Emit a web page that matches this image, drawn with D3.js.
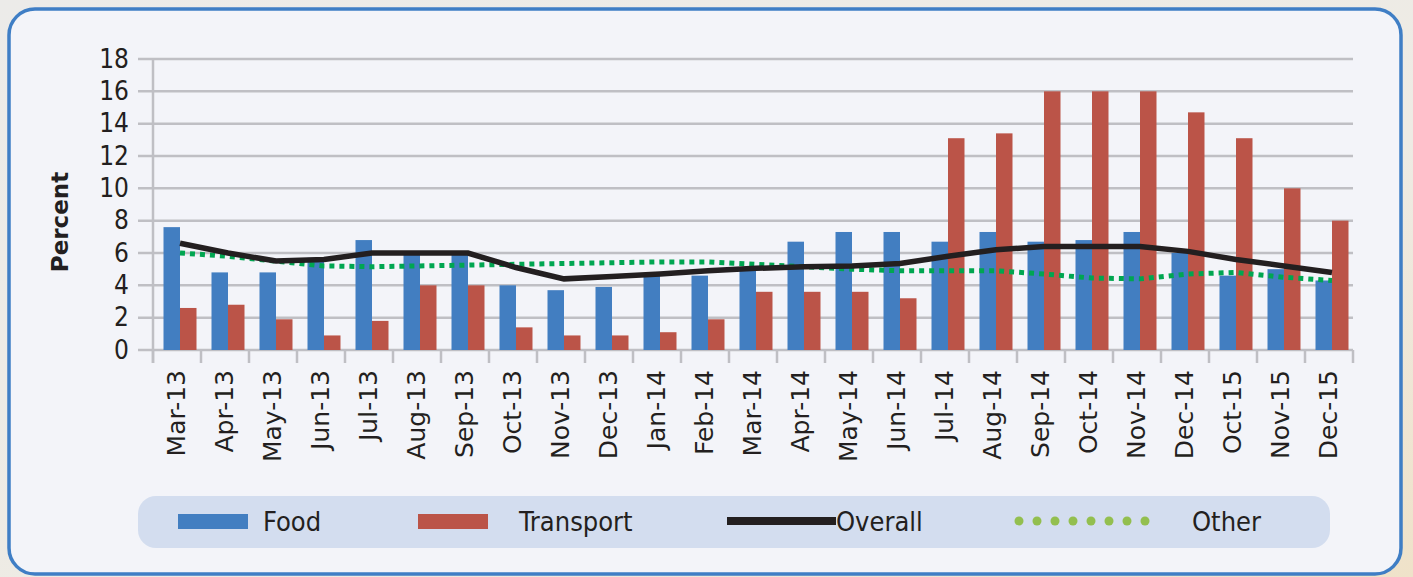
<!DOCTYPE html>
<html>
<head>
<meta charset="utf-8">
<script src="https://cdn.jsdelivr.net/npm/d3@7"></script>
<style>
  body { margin: 0; background: linear-gradient(160deg, #ecebe9 0%, #eeebe4 60%, #efe2c9 100%); }
  svg { display: block; }
  text { font-family: "DejaVu Sans Condensed", "DejaVu Sans", sans-serif; fill: #231f20; }
</style>
</head>
<body>
<svg id="chart" width="1413" height="577"></svg>
<script>
const months = ['Mar-13','Apr-13','May-13','Jun-13','Jul-13','Aug-13','Sep-13','Oct-13','Nov-13','Dec-13',
  'Jan-14','Feb-14','Mar-14','Apr-14','May-14','Jun-14','Jul-14','Aug-14','Sep-14','Oct-14','Nov-14','Dec-14',
  'Oct-15','Nov-15','Dec-15'];
const food = [7.6,4.8,4.8,5.7,6.8,6.0,6.0,4.0,3.7,3.9,4.6,4.6,5.0,6.7,7.3,7.3,6.7,7.3,6.7,6.8,7.3,6.0,4.6,5.0,4.3];
const transport = [2.6,2.8,1.9,0.9,1.8,4.0,4.0,1.4,0.9,0.9,1.1,1.9,3.6,3.6,3.6,3.2,13.1,13.4,16.0,16.0,16.0,14.7,13.1,10.0,8.0];
const overall = [6.6,6.0,5.5,5.6,6.0,6.0,6.0,5.1,4.4,4.55,4.7,4.9,5.05,5.15,5.2,5.35,5.8,6.2,6.4,6.4,6.4,6.1,5.6,5.2,4.8];
const other = [6.0,5.8,5.5,5.2,5.15,5.2,5.25,5.3,5.35,5.4,5.45,5.45,5.3,5.15,5.0,4.9,4.9,4.9,4.7,4.45,4.4,4.7,4.8,4.5,4.3];
const yTicks = [0,2,4,6,8,10,12,14,16,18];

const svg = d3.select('#chart');
const blue = '#427ec1', red = '#bb5448', grid = '#bfbfc4';

// frame
svg.append('rect')
  .attr('x', 9).attr('y', 9).attr('width', 1392).attr('height', 565)
  .attr('rx', 26).attr('fill', '#f3f4f9')
  .attr('stroke', '#3f7ec5').attr('stroke-width', 3.5);

const x = d3.scaleBand().domain(months).range([153, 1353]);
const y = d3.scaleLinear().domain([0, 18]).range([350, 59]);
const bw = x.bandwidth();
const cx = d => x(d) + bw / 2 + 3;

// gridlines
svg.append('g')
  .selectAll('line')
  .data(yTicks)
  .join('line')
    .attr('x1', 138).attr('x2', 1353)
    .attr('y1', d => y(d)).attr('y2', d => y(d))
    .attr('stroke', grid).attr('stroke-width', 2.5);

// y axis
svg.append('g')
  .attr('transform', 'translate(153,0)')
  .call(d3.axisLeft(y).tickValues(yTicks).tickSize(0).tickPadding(24))
  .call(g => g.select('.domain').remove())
  .call(g => g.selectAll('text')
    .style('font-size', '26px').attr('fill', '#231f20'));

svg.append('line')
  .attr('x1', 153).attr('x2', 153).attr('y1', y(18)).attr('y2', 363)
  .attr('stroke', grid).attr('stroke-width', 2.5);

// x axis ticks at band edges
const edges = months.map(m => x(m)).concat([x(months[months.length - 1]) + bw]);
svg.append('g')
  .selectAll('line')
  .data(edges)
  .join('line')
    .attr('x1', d => d).attr('x2', d => d)
    .attr('y1', y(0)).attr('y2', 363)
    .attr('stroke', grid).attr('stroke-width', 2.5);

svg.append('g')
  .selectAll('text')
  .data(months)
  .join('text')
    .attr('transform', d => `translate(${x(d) + bw / 2 + 8},370) rotate(-90)`)
    .attr('text-anchor', 'end')
    .style('font-family', '"DejaVu Sans", sans-serif')
    .style('font-size', '25px')
    .text(d => d);

svg.append('text')
  .attr('transform', 'translate(68,222) rotate(-90)')
  .attr('text-anchor', 'middle')
  .style('font-family', '"DejaVu Sans", sans-serif')
  .style('font-weight', 'bold')
  .style('font-size', '23px')
  .text('Percent');

// bars
const barW = 16.5;
svg.append('g')
  .attr('fill', blue)
  .selectAll('rect')
  .data(months)
  .join('rect')
    .attr('x', d => cx(d) - barW)
    .attr('y', (d, i) => y(food[i]))
    .attr('width', barW)
    .attr('height', (d, i) => y(0) - y(food[i]));

svg.append('g')
  .attr('fill', red)
  .selectAll('rect')
  .data(months)
  .join('rect')
    .attr('x', d => cx(d))
    .attr('y', (d, i) => y(transport[i]))
    .attr('width', barW)
    .attr('height', (d, i) => y(0) - y(transport[i]));

// lines
const line = d3.line().x(d => cx(d[0])).y(d => y(d[1]));
svg.append('path')
  .datum(months.map((m, i) => [m, other[i]]))
  .attr('d', line)
  .attr('fill', 'none')
  .attr('stroke', '#00a651').attr('stroke-width', 5)
  .attr('stroke-dasharray', '5,5');

svg.append('path')
  .datum(months.map((m, i) => [m, overall[i]]))
  .attr('d', line)
  .attr('fill', 'none')
  .attr('stroke', '#231f20').attr('stroke-width', 5.5);

// legend
const leg = svg.append('g');
leg.append('rect')
  .attr('x', 138).attr('y', 496).attr('width', 1192).attr('height', 52)
  .attr('rx', 18).attr('fill', '#d3ddef');
leg.append('rect').attr('x', 178).attr('y', 514).attr('width', 70).attr('height', 15).attr('fill', blue);
leg.append('rect').attr('x', 418).attr('y', 514).attr('width', 70).attr('height', 15).attr('fill', red);
leg.append('line').attr('x1', 727).attr('x2', 836).attr('y1', 521).attr('y2', 521)
  .attr('stroke', '#231f20').attr('stroke-width', 8);
leg.selectAll('circle')
  .data(d3.range(8))
  .join('circle')
    .attr('cx', d => 1019 + d * 18).attr('cy', 521).attr('r', 4.5)
    .attr('fill', '#93bf4f');
const legText = [['Food', 263], ['Transport', 519], ['Overall', 836], ['Other', 1192]];
leg.selectAll('text')
  .data(legText)
  .join('text')
    .attr('x', d => d[1]).attr('y', 531)
    .style('font-size', '27px')
    .text(d => d[0]);
</script>
</body>
</html>
